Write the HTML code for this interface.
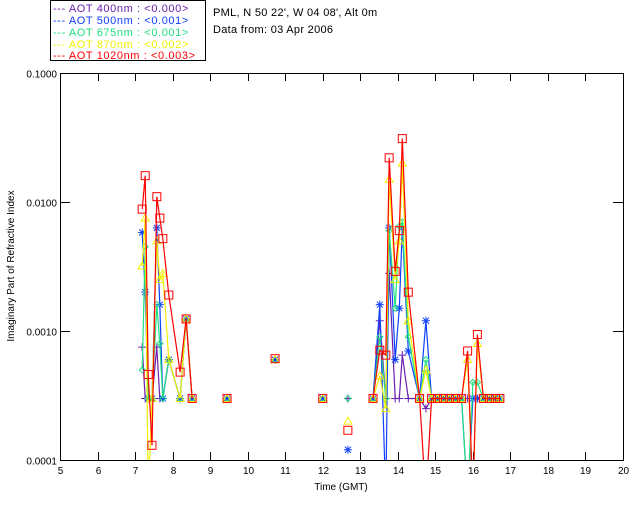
<!DOCTYPE html>
<html><head><meta charset="utf-8"><style>
body{margin:0;background:#fff;}
svg{display:block;font-family:"Liberation Sans",sans-serif;}
</style></head><body>
<svg id="chart" width="640" height="512" viewBox="0 0 640 512">
<rect x="0" y="0" width="640" height="512" fill="#fff"/>
<g>
<rect x="50.5" y="0.5" width="155" height="60" fill="none" stroke="#000"/>
<g font-size="11" letter-spacing="0.6">
<text x="53" y="12" fill="#6a1fb0">--- AOT  400nm : &lt;0.000&gt;</text>
<text x="53" y="24" fill="#1040ff">--- AOT  500nm : &lt;0.001&gt;</text>
<text x="53" y="36" fill="#20e080">--- AOT  675nm : &lt;0.001&gt;</text>
<text x="53" y="48" fill="#f0f000">--- AOT  870nm : &lt;0.002&gt;</text>
<text x="53" y="59" fill="#ff0000">--- AOT 1020nm : &lt;0.003&gt;</text>
</g></g>
<text x="213" y="16" font-size="11" letter-spacing="0.3">PML, N 50 22', W 04 08', Alt 0m</text>
<text x="213" y="33" font-size="11" letter-spacing="0.3">Data from: 03 Apr 2006</text>
<text transform="translate(14,266) rotate(-90)" text-anchor="middle" font-size="10">Imaginary Part of Refractive Index</text>
<text x="341" y="490" text-anchor="middle" font-size="10">Time (GMT)</text>
<g id="axes"></g>
<defs><clipPath id="clip"><rect x="60" y="73" width="563" height="387"/></clipPath></defs>
<g id="plot" clip-path="url(#clip)"></g>
</svg>
<script>
const times=[7.19,7.27,7.35,7.45,7.58,7.66,7.74,7.90,8.20,8.36,8.52,9.45,10.73,12.00,12.67,13.34,13.52,13.68,13.77,13.93,14.04,14.12,14.28,14.58,14.75,14.90,15.06,15.22,15.38,15.54,15.70,15.86,16.00,16.12,16.28,16.44,16.60,16.72];
const purpleVals=[.00075,.0003,.0003,.0003,.00075,.0003,.0003,.0006,.0003,.00124,.0003,.0003,.0006,.0003,.0003,.0003,.0012,.0003,.0028,.0003,.0003,.00065,.0003,.0003,.00025,.0003,.0003,.0003,.0003,.0003,.0003,.0003,.0003,.0003,.0003,.0003,.0003,.0003];
const blueVals=[.0058,.002,.0003,.0003,.0063,.0016,.0003,.0006,.0003,.00124,.0003,.0003,.0006,.0003,.00012,.0003,.0016,.00005,.0063,.0006,.0015,.0063,.0007,.0003,.0012,.0003,.0003,.0003,.0003,.0003,.0003,.00005,.0003,.0003,.0003,.0003,.0003,.0003];
const greenVals=[.0005,.0045,.0003,.0003,.0016,.0008,.0003,.0006,.0003,.00124,.0003,.0003,.0006,.0003,.0003,.0003,.0009,.0003,.006,.0015,.0065,.007,.0009,.0003,.0006,.0003,.0003,.0003,.0003,.0003,.0003,.00005,.0004,.0004,.0003,.0003,.0003,.0003];
const yellowVals=[.0032,.0075,.00005,.0003,.005,.0025,.0028,.0006,.0003,.00124,.0003,.0003,.0006,.0003,.0002,.0003,.00045,.00025,.015,.0025,.005,.02,.0012,.0003,.0005,.0003,.0003,.0003,.0003,.0003,.0003,.0006,.00005,.0008,.0003,.0003,.0003,.0003];
const redVals=[.0088,.016,.00046,.00013,.011,.0075,.0052,.0019,.00048,.00124,.0003,.0003,.00061,.0003,.00017,.0003,.00071,.00065,.022,.0029,.006,.031,.002,.0003,.00005,.0003,.0003,.0003,.0003,.0003,.0003,.0007,.00005,.00094,.0003,.0003,.0003,.0003];
const xTicks=[5,6,7,8,9,10,11,12,13,14,15,16,17,18,19,20];
const yTicks=[0.0001,0.001,0.01,0.1];
const yTickLabels=["0.0001","0.0010","0.0100","0.1000"];

const NS="http://www.w3.org/2000/svg";
const X0=60,X1=623,Y0=460,Y1=73;
function xs(t){return X0+(t-5)/(20-5)*(X1-X0);}
function ys(v){return Y0-(Math.log10(v)+4)/3*(Y0-Y1);}
function mk(tag,attrs,parent){const e=document.createElementNS(NS,tag);for(const k in attrs)e.setAttribute(k,attrs[k]);parent.appendChild(e);return e;}
const axes=document.getElementById('axes');
const frame=mk('rect',{x:X0+.5,y:Y1+.5,width:X1-X0,height:Y0-Y1,fill:'none',stroke:'#000'},axes);


xTicks.forEach(t=>{
  const x=Math.round(xs(t))+.5;
  mk('line',{x1:x,x2:x,y1:Y0,y2:Y0-8,stroke:'#000'},axes);
  mk('line',{x1:x,x2:x,y1:Y1,y2:Y1+8,stroke:'#000'},axes);
  const tx=mk('text',{x:x,y:Y0+14,'text-anchor':'middle','font-size':10},axes);
  tx.textContent=t;
  
  
});
yTicks.forEach((v,i)=>{
  const y=Math.round(ys(v))+.5;
  mk('line',{x1:X0,x2:X0+10,y1:y,y2:y,stroke:'#000'},axes);
  mk('line',{x1:X1,x2:X1-10,y1:y,y2:y,stroke:'#000'},axes);
  const tx=mk('text',{x:X0-3,y:y+4,'text-anchor':'end','font-size':10},axes);
  tx.textContent=yTickLabels[i];
  
  
});
const plot=document.getElementById('plot');
const series=[
 {name:'series-400nm',vals:purpleVals,color:'#6a1fb0',m:'plus'},
 {name:'series-500nm',vals:blueVals,color:'#1040ff',m:'star'},
 {name:'series-675nm',vals:greenVals,color:'#20e080',m:'diamond'},
 {name:'series-870nm',vals:yellowVals,color:'#f0f000',m:'tri'},
 {name:'series-1020nm',vals:redVals,color:'#ff0000',m:'square'}];
series.forEach(s=>{
  const g=mk('g',{},plot);
  
  
  let d='';
  for(let i=0;i<times.length;i++){
    const x=xs(times[i]),y=ys(s.vals[i]);
    const newSeg=i===0||times[i]-times[i-1]>0.5;
    d+=(newSeg?'M':'L')+x.toFixed(1)+' '+y.toFixed(1);
  }
  const p=mk('path',{d:d,fill:'none',stroke:s.color,'stroke-width':1.2},g);
  
  
  for(let i=0;i<times.length;i++){
    const x=xs(times[i]),y=ys(s.vals[i]);
    let e;
    if(s.m==='plus') e=mk('path',{d:`M${x-4} ${y}h8M${x} ${y-4}v8`,stroke:s.color,fill:'none'},g);
    else if(s.m==='star') e=mk('path',{d:`M${x-4} ${y}h8M${x} ${y-4}v8M${x-3} ${y-3}l6 6M${x-3} ${y+3}l6 -6`,stroke:s.color,fill:'none'},g);
    else if(s.m==='diamond') e=mk('path',{d:`M${x} ${y-3}l3 3l-3 3l-3 -3z`,stroke:s.color,fill:'none'},g);
    else if(s.m==='tri') e=mk('path',{d:`M${x} ${y-4}l4 7h-8z`,stroke:s.color,fill:'none'},g);
    else e=mk('rect',{x:x-4,y:y-4,width:8,height:8,stroke:s.color,fill:'none'},g);
    
    
  }
});
</script>
</body></html>
